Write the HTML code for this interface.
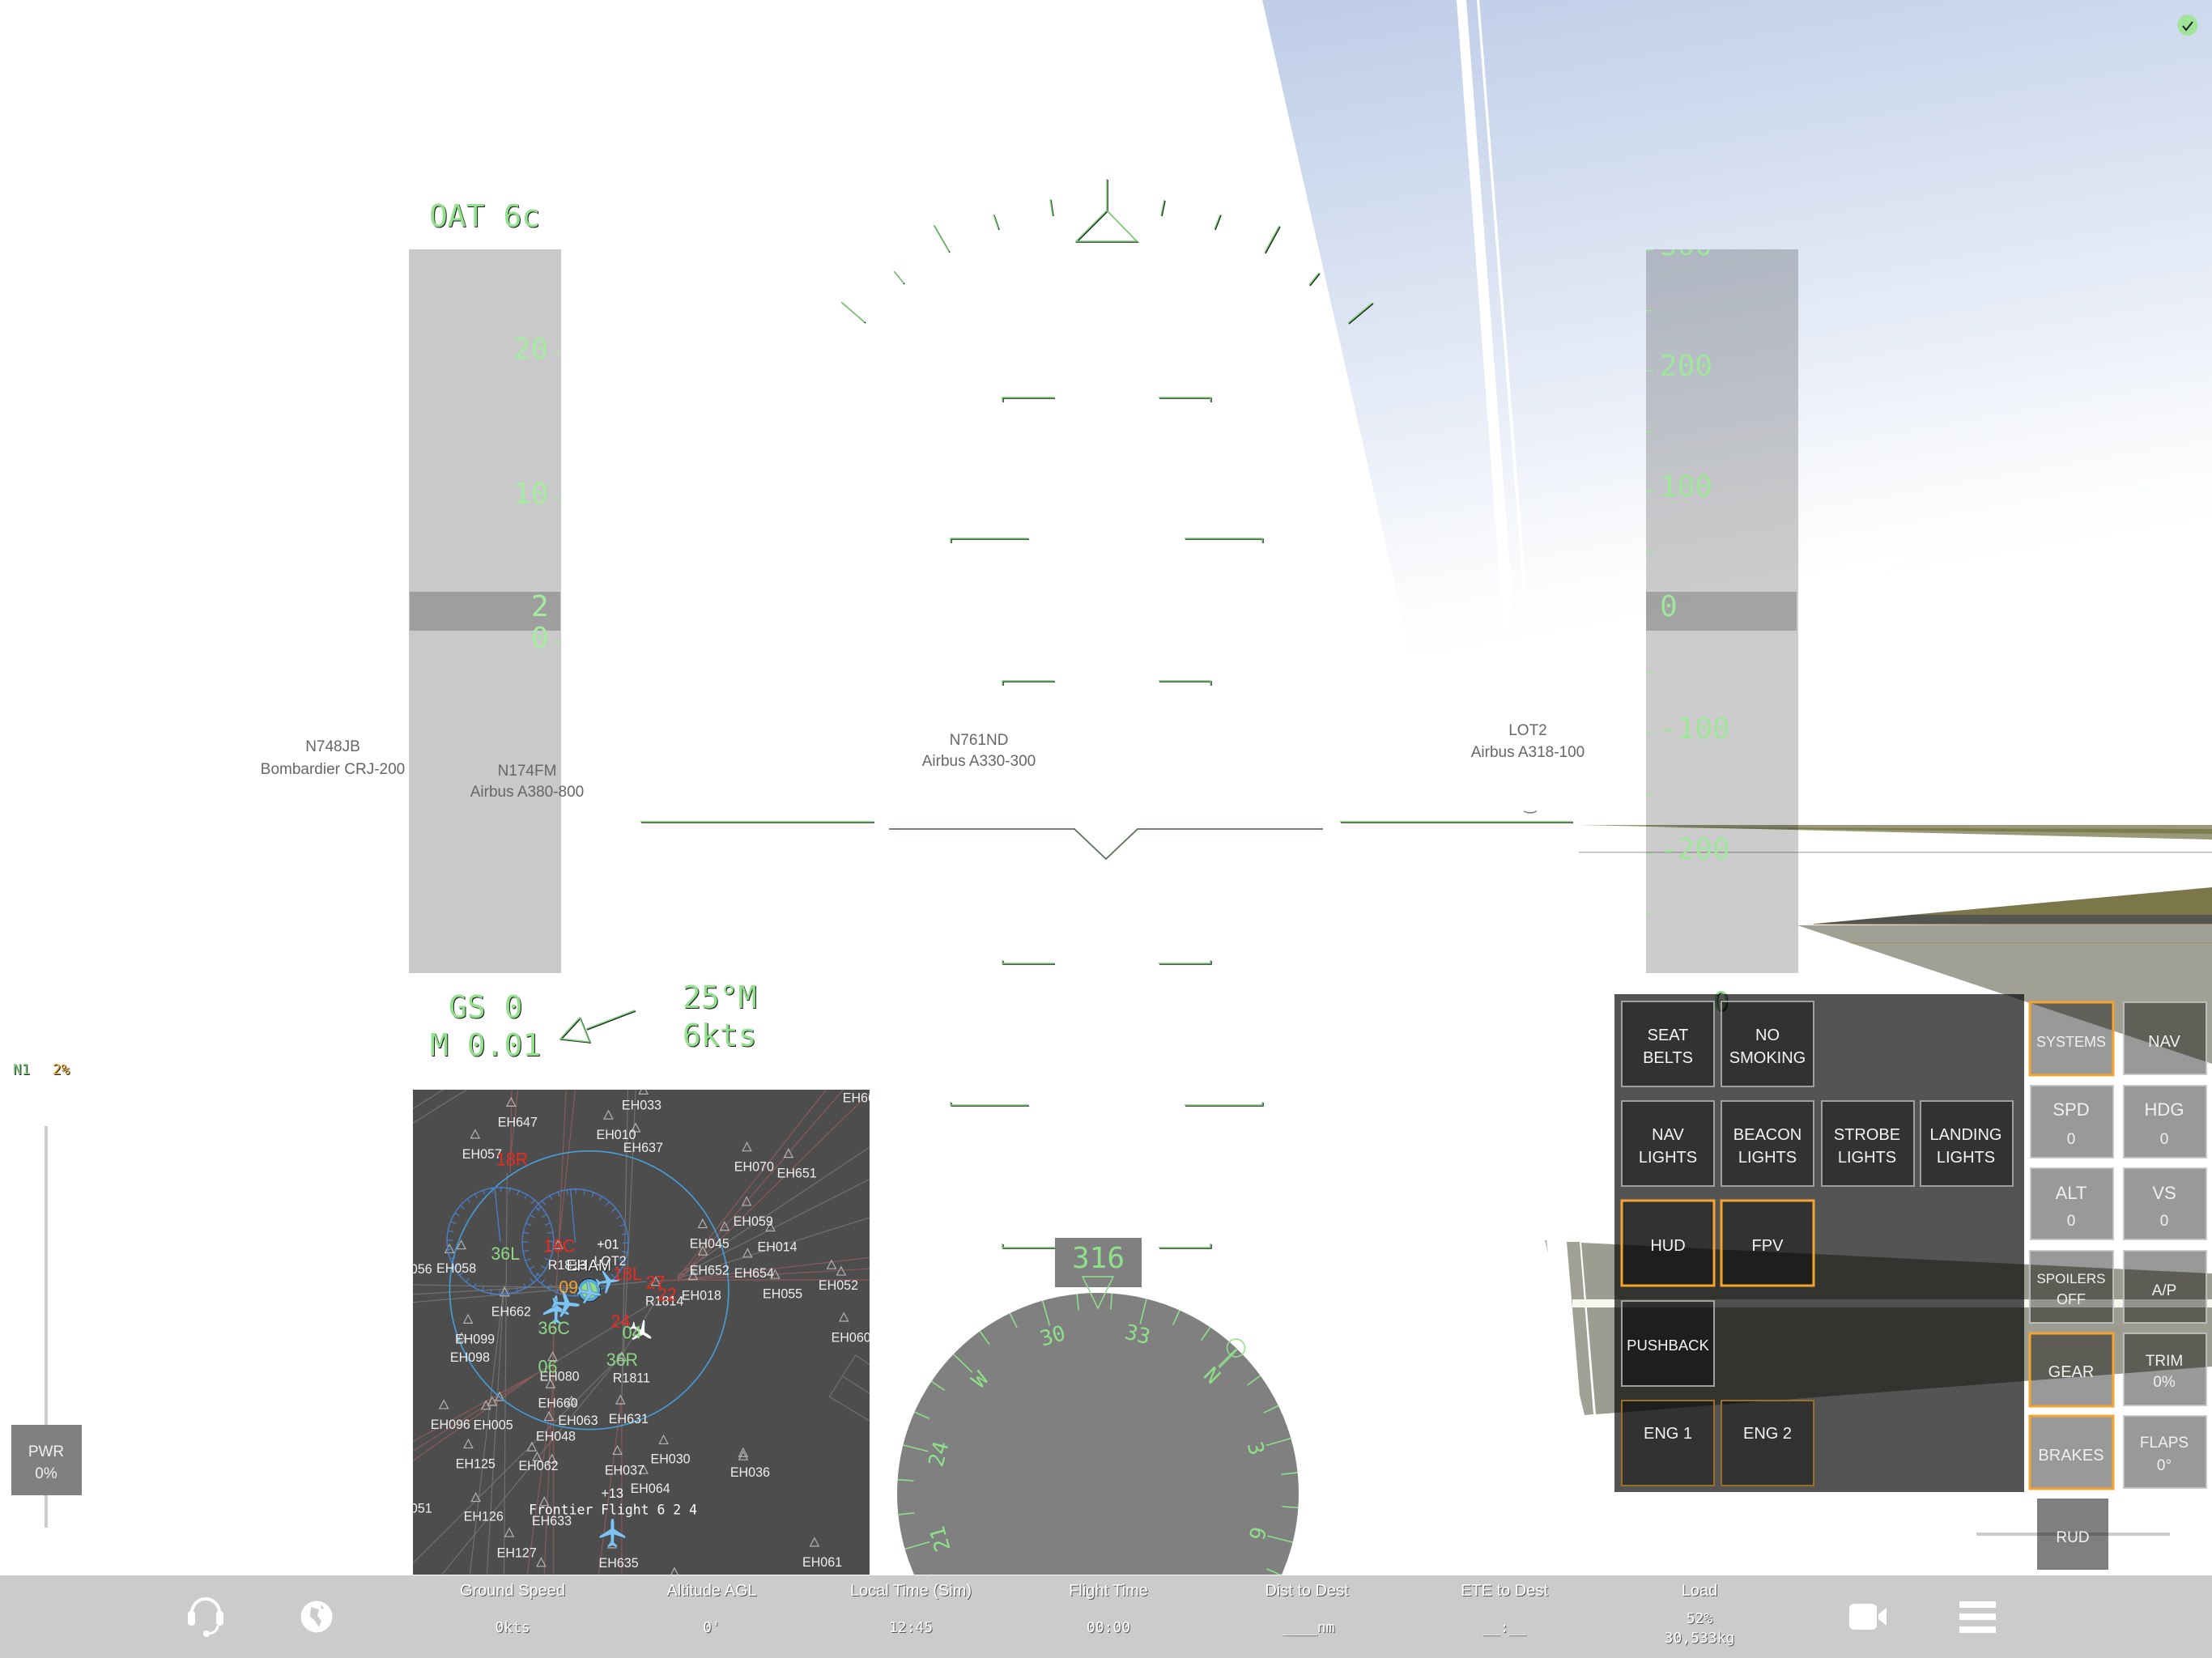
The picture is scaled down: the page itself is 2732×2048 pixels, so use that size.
<!DOCTYPE html>
<html><head><meta charset="utf-8"><style>
html,body{margin:0;padding:0;background:#fff}
svg{display:block;font-family:"Liberation Sans",sans-serif}
.m{font-family:"DejaVu Sans Mono","Liberation Mono",monospace}
.h{fill:#93e08e;font-size:38px;filter:drop-shadow(1px 1px 0 #1c1c1c)}
.hl{stroke:#7fcf7a;stroke-width:1.5;fill:none;filter:drop-shadow(1px 1px 0 #152515)}
.t{fill:#a5eba0;font-size:36px}
.b{fill:#f4f4f4;font-size:20px;text-anchor:middle}
.r{fill:#f0f0f0;font-size:19px;text-anchor:middle}
.ac{fill:#666;font-size:19px;text-anchor:middle}
.s{fill:#fff;font-size:20px;text-anchor:middle;filter:drop-shadow(1px 1px 0 #555)}
.sv{fill:#fff;font-size:18px;text-anchor:middle;filter:drop-shadow(1px 1px 0 #555)}
.w{fill:#eee;font-size:42px}
.rw{font-size:56px}
</style></head><body>
<svg xmlns="http://www.w3.org/2000/svg" width="2732" height="2048" viewBox="0 0 2732 2048">
<defs>
<linearGradient id="sky" gradientUnits="userSpaceOnUse" x1="1720" y1="0" x2="1860" y2="800">
<stop offset="0" stop-color="#c0cee8"/><stop offset=".35" stop-color="#d5dff0"/><stop offset=".65" stop-color="#e9eef8"/><stop offset=".9" stop-color="#fbfcfd"/><stop offset="1" stop-color="#fff"/></linearGradient>
<clipPath id="mapc"><rect x="510" y="1346" width="564" height="599"/></clipPath>
<clipPath id="cc"><rect x="1100" y="1590" width="520" height="355"/></clipPath>
<clipPath id="rt"><rect x="2033" y="308" width="188" height="894"/></clipPath>
</defs>
<rect width="2732" height="2048" fill="#fff"/>
<!-- sky -->
<polygon points="1559,0 2732,0 2732,820 1745,820" fill="url(#sky)"/>
<polygon points="1799,0 1811,0 1871,780 1857,780" fill="#fff"/>
<polygon points="1824,0 1827,0 1889,780 1885,780" fill="#fff"/>
<polygon points="1880,790 2356,681 2356,695 2100,790" fill="#fff" opacity=".8"/>
<!-- horizon -->
<polygon points="1950,1019 2732,1019 2732,1037" fill="#9a9a78"/>
<polygon points="2050,1022 2732,1024 2732,1030" fill="#7c7d4e"/>
<rect x="1950" y="1052" width="782" height="1.5" fill="#bdbdbd"/>
<!-- ground upper -->
<polygon points="2361,1130 2732,1096 2732,1130" fill="#7c764b"/>
<polygon points="2220,1143 2361,1130 2732,1130 2732,1141 2240,1141" fill="#55554f"/>
<polygon points="2220,1143 2732,1141 2732,1314" fill="#a0a094"/>
<rect x="2240" y="1141" width="492" height="1" fill="#9a8a60"/>
<rect x="2285" y="1164" width="447" height="1" fill="#a88e5c"/>
<!-- ground lower -->
<polygon points="1908,1532 1910,1532 1912,1548" fill="#a8a89c"/>
<polygon points="1935,1534 1951,1534 1968,1747 1957,1748 1951,1723" fill="#a0a094"/>
<polygon points="1953,1535 2732,1573 2732,1688 1971,1747" fill="#9c9c90"/>
<rect x="1942" y="1605" width="790" height="10" fill="#f6f6ee"/>
<!-- tapes -->
<rect x="505" y="308" width="188" height="894" fill="#000" opacity=".21"/>
<rect x="506" y="731" width="186" height="48" fill="#000" opacity=".21"/>
<g class="m t">
<text x="634" y="443">20</text><text x="634" y="622">10</text><text x="656" y="800">0</text><text x="656" y="761">2</text>
</g>
<g fill="#a5eba0"><rect x="683" y="435" width="10" height="1.5"/><rect x="683" y="614" width="10" height="1.5"/><rect x="683" y="793" width="10" height="1.5"/></g>
<rect x="2033" y="308" width="188" height="894" fill="#000" opacity=".2"/>
<rect x="2033" y="731" width="186" height="48" fill="#000" opacity=".2"/>
<g clip-path="url(#rt)"><g class="m t" style="fill:#9fe69a">
<text x="2050" y="315">300</text><text x="2050" y="464">200</text><text x="2050" y="613">100</text><text x="2050" y="761">0</text><text x="2050" y="912">-100</text><text x="2050" y="1061">-200</text></g></g>
<g fill="#9fe69a"><rect x="2033" y="308" width="9" height="1.5"/><rect x="2033" y="383" width="9" height="1.5"/><rect x="2033" y="457" width="9" height="1.5"/><rect x="2033" y="532" width="9" height="1.5"/><rect x="2033" y="606" width="9" height="1.5"/><rect x="2033" y="681" width="9" height="1.5"/><rect x="2033" y="830" width="9" height="1.5"/><rect x="2033" y="905" width="9" height="1.5"/><rect x="2033" y="980" width="9" height="1.5"/><rect x="2033" y="1054" width="9" height="1.5"/><rect x="2033" y="1129" width="9" height="1.5"/></g>
<!-- HUD text -->
<text class="m h" x="530" y="280">OAT 6c</text>
<text class="m h" x="554" y="1257">GS 0</text>
<text class="m h" x="531" y="1304">M 0.01</text>
<text class="m h" x="843" y="1245">25°M</text>
<text class="m h" x="843" y="1292">6kts</text>
<text class="m h" x="2116" y="1248" style="font-size:32px">0</text>
<text class="m" x="16" y="1327" style="fill:#7fcf7a;font-size:17.5px;filter:drop-shadow(1px 1px 0 #222)">N1</text>
<text class="m" x="65" y="1327" style="fill:#eba52f;font-size:17.5px;filter:drop-shadow(1px 1px 0 #222)">2%</text>
<!-- HUD lines -->
<g class="hl">
<path d="M1367 221V260L1329 298H1404L1367 260"/>
<path d="M1297 246L1300 266M1227 265L1233 283M1153 278L1172 311M1104 335L1116 350M1039 373L1068 398M1438 247L1434 266M1507 265L1500 283M1580 279L1562 312M1629 337L1617 352M1695 374L1665 399"/>
<path d="M1238 496V491H1302M1431 491H1495V496"/>
<path d="M1174 670V665H1270M1463 665H1559V670"/>
<path d="M1238 846V841H1302M1431 841H1495V846"/>
<path d="M791 1015H1079M1655 1015H1942"/>
<path d="M1238 1186V1190H1302M1431 1190H1495V1186"/>
<path d="M1174 1361V1365H1270M1463 1365H1559V1361"/>
<path d="M1238 1536V1541H1303M1431 1541H1495V1536"/>
<path d="M716 1257L692 1283L728 1287ZM724 1271L784 1248"/>
</g>
<path d="M1098 1024H1327L1366 1061L1405 1024H1634" fill="none" stroke="#5c705c" stroke-width="1.8"/>
<path d="M1882 1002q8 4 16 0" fill="none" stroke="#777" stroke-width="1.5"/>
<!-- aircraft labels -->
<g class="ac">
<text x="411" y="928">N748JB</text><text x="411" y="956">Bombardier CRJ-200</text>
<text x="651" y="958">N174FM</text><text x="651" y="984">Airbus A380-800</text>
<text x="1209" y="920">N761ND</text><text x="1209" y="946">Airbus A330-300</text>
<text x="1887" y="908">LOT2</text><text x="1887" y="935">Airbus A318-100</text>
</g>
<!-- slider and PWR -->
<rect x="55" y="1391" width="4" height="496" fill="#ccc"/>
<rect x="14" y="1760" width="87" height="87" fill="#808080"/>
<text class="r" x="57" y="1799">PWR</text><text class="r" x="57" y="1826">0%</text>
<!-- MAP -->
<rect x="510" y="1346" width="564" height="599" fill="#4d4d4d"/>
<g clip-path="url(#mapc)"><g transform="translate(500 1330) scale(.3827 .3953)">
<g fill="none" stroke="#727272" stroke-width="3">
<path d="M330 300L320 1555M320 650L210 1555M320 650L265 1555M26 650L560 660M26 680L560 650M26 705L560 660M560 660L780 640M720 40L700 1000M745 40L700 1000M810 700L430 925M700 870L26 1520M700 870L120 1555M810 700L700 870M880 620L1500 220M880 625L1500 320M880 630L1500 440M26 100L125 40M26 145L200 40M1500 900L1455 870L1370 1000L1500 1075M1415 937L1500 990"/>
</g>
<g fill="none" stroke="#8d5a5a" stroke-width="3">
<path d="M345 40L340 300M365 40L340 260M550 40L497 520L480 800L480 1555M520 40L497 520M480 800L475 1000L395 1555M475 1000L450 1555M700 1000V1555M700 1000L625 1555M1360 40L880 630M1415 40L880 640M1500 50L880 640M880 635L1500 565M880 635L1500 600M880 635H1500M880 635L790 640M430 925L26 1140M430 925L26 1170M430 925L26 1200"/>
</g>
<path fill="none" stroke="#b4b4b4" stroke-width="3" d="M343 66l-14 26h28zM227 166l-14 26h28zM770 28l-14 26h28zM657 106l-14 26h28zM745 146l-14 26h28zM1104 206l-14 26h28zM1238 226l-14 26h28zM1103 376l-14 26h28zM961 446l-14 26h28zM1032 454l-14 26h28zM1180 456l-14 26h28zM962 531l-14 26h28zM1106 538l-14 26h28zM810 626l-14 26h28zM930 608l-14 26h28zM1195 604l-14 26h28zM1377 574l-14 26h28zM1408 594l-14 26h28zM144 524l-14 26h28zM182 512l-14 26h28zM322 659l-14 26h28zM204 744l-14 26h28zM183 801l-14 26h28zM1417 738l-14 26h28zM477 861l-14 26h28zM470 946l-14 26h28zM306 986l-14 26h28zM282 1001l-14 26h28zM262 1013l-14 26h28zM126 1011l-14 26h28zM465 1048l-14 26h28zM696 996l-14 26h28zM205 1134l-14 26h28zM835 1121l-14 26h28zM410 1143l-14 26h28zM427 1174l-14 26h28zM475 1181l-14 26h28zM686 1154l-14 26h28zM770 1214l-14 26h28zM1092 1161l-14 26h28zM1092 1171l-14 26h28zM229 1301l-14 26h28zM450 1314l-14 26h28zM337 1411l-14 26h28zM668 1446l-14 26h28zM440 1504l-14 26h28zM1322 1441l-14 26h28zM870 1535l-14 26h28zM700 861l-14 26h28zM495 511l-14 26h28zM538 999l-14 26h28z"/>
<ellipse cx="595" cy="667" rx="450" ry="435" fill="none" stroke="#45a0de" stroke-width="4"/>
<ellipse cx="308" cy="513" rx="172" ry="167" fill="none" stroke="#4a7fc9" stroke-width="3.5"/>
<ellipse cx="550" cy="518" rx="171" ry="167" fill="none" stroke="#4a7fc9" stroke-width="3.5"/>
<circle cx="308" cy="513" r="162" fill="none" stroke="#4a7fc9" stroke-width="18" stroke-dasharray="3 25.3"/>
<circle cx="550" cy="518" r="161" fill="none" stroke="#4a7fc9" stroke-width="18" stroke-dasharray="3 25.1"/>
<path d="M290 347L308 515M535 352L550 518" stroke="#4a7fc9" stroke-width="3.5" fill="none"/>
<g class="w">
<text x="300" y="155">EH647</text><text x="700" y="102">EH033</text><text x="618" y="195">EH010</text><text x="705" y="235">EH637</text><text x="185" y="255">EH057</text><text x="1413" y="80">EH66</text><text x="1063" y="295">EH070</text><text x="1201" y="315">EH651</text><text x="1060" y="465">EH059</text><text x="919" y="535">EH045</text><text x="1138" y="545">EH014</text><text x="919" y="618">EH652</text><text x="1063" y="627">EH654</text><text x="102" y="612">EH058</text><text x="18" y="615">056</text><text x="1335" y="665">EH052</text><text x="1155" y="692">EH055</text><text x="893" y="697">EH018</text><text x="279" y="748">EH662</text><text x="776" y="715">R1814</text><text x="162" y="833">EH099</text><text x="146" y="890">EH098</text><text x="1376" y="828">EH060</text><text x="435" y="950">EH080</text><text x="671" y="955">R1811</text><text x="430" y="1033">EH660</text><text x="495" y="1088">EH063</text><text x="658" y="1083">EH631</text><text x="83" y="1100">EH096</text><text x="221" y="1102">EH005</text><text x="423" y="1137">EH048</text><text x="164" y="1223">EH125</text><text x="367" y="1230">EH062</text><text x="793" y="1208">EH030</text><text x="1050" y="1250">EH036</text><text x="645" y="1243">EH037</text><text x="728" y="1300">EH064</text><text x="18" y="1362">051</text><text x="190" y="1387">EH126</text><text x="410" y="1402">EH633</text><text x="297" y="1502">EH127</text><text x="626" y="1533">EH635</text><text x="1283" y="1530">EH061</text><text x="462" y="602">R1813</text><text x="610" y="590">LOT2</text>
</g>
<g fill="#7ec4f2" stroke="#2a3a4a" stroke-width="1">
<path transform="translate(670 1425)" d="M0-45C5-45 6-35 6-25V-12L42 10V18L6 6 5 30 16 40V46L0 40-16 46V40L-5 30-6 6-42 18V10L-6-12V-25C-6-35-5-45 0-45Z"/>
<path transform="translate(488 728)" d="M0-45C5-45 6-35 6-25V-12L42 10V18L6 6 5 30 16 40V46L0 40-16 46V40L-5 30-6 6-42 18V10L-6-12V-25C-6-35-5-45 0-45Z"/>
<path transform="translate(520 710) rotate(95)" d="M0-45C5-45 6-35 6-25V-12L42 10V18L6 6 5 30 16 40V46L0 40-16 46V40L-5 30-6 6-42 18V10L-6-12V-25C-6-35-5-45 0-45Z"/>
</g>
<circle cx="595" cy="667" r="30" fill="#8fdc8a" stroke="#55a8e0" stroke-width="10"/>
<circle cx="595" cy="667" r="36" fill="none" stroke="#111" stroke-width="2"/>
<g fill="#7ec4f2" stroke="#2a3a4a" stroke-width="1">
<path transform="translate(595 675) rotate(100) scale(.85)" d="M0-45C5-45 6-35 6-25V-12L42 10V18L6 6 5 30 16 40V46L0 40-16 46V40L-5 30-6 6-42 18V10L-6-12V-25C-6-35-5-45 0-45Z"/>
<path transform="translate(655 640) rotate(82) scale(.85)" d="M0-45C5-45 6-35 6-25V-12L42 10V18L6 6 5 30 16 40V46L0 40-16 46V40L-5 30-6 6-42 18V10L-6-12V-25C-6-35-5-45 0-45Z"/>
<path transform="translate(763 797) rotate(122) scale(.85)" fill="#fff" d="M0-45C5-45 6-35 6-25V-12L42 10V18L6 6 5 30 16 40V46L0 40-16 46V40L-5 30-6 6-42 18V10L-6-12V-25C-6-35-5-45 0-45Z"/>
</g>
<g class="rw" fill="#ee2a20">
<text x="295" y="277">18R</text><text x="447" y="548">18C</text><text x="672" y="635">18L</text><text x="778" y="662">27</text><text x="815" y="700">22</text><text x="665" y="783">24</text></g>
<g class="rw" fill="#8cd884">
<text x="278" y="572">36L</text><text x="430" y="805">36C</text><text x="702" y="818">04</text><text x="650" y="903">36R</text><text x="430" y="925">06</text></g>
<text class="rw" x="497" y="677" fill="#f0a030">09</text>
<text x="522" y="606" style="font-size:50px;fill:#fff;filter:drop-shadow(2px 2px 0 #000)">EHAM</text>
<text class="w" x="620" y="538" style="fill:#fff">+01</text>
<text class="w" x="634" y="1316" style="fill:#fff">+13</text>
<text class="m" x="400" y="1367" style="font-size:43px;fill:#fff">Frontier Flight 6 2 4</text>
</g></g>
<!-- Compass -->
<g clip-path="url(#cc)">
<circle cx="1356" cy="1845" r="248" fill="#808080"/>
<g stroke="#8fe08a" stroke-width="1.6">
<line x1="1356" y1="1597" x2="1356" y2="1629" transform="rotate(14 1356 1845)"/><line x1="1356" y1="1597" x2="1356" y2="1629" transform="rotate(44 1356 1845)"/><line x1="1356" y1="1597" x2="1356" y2="1629" transform="rotate(74 1356 1845)"/><line x1="1356" y1="1597" x2="1356" y2="1629" transform="rotate(104 1356 1845)"/><line x1="1356" y1="1597" x2="1356" y2="1629" transform="rotate(134 1356 1845)"/><line x1="1356" y1="1597" x2="1356" y2="1629" transform="rotate(-16 1356 1845)"/><line x1="1356" y1="1597" x2="1356" y2="1629" transform="rotate(-46 1356 1845)"/><line x1="1356" y1="1597" x2="1356" y2="1629" transform="rotate(-76 1356 1845)"/><line x1="1356" y1="1597" x2="1356" y2="1629" transform="rotate(-106 1356 1845)"/><line x1="1356" y1="1597" x2="1356" y2="1629" transform="rotate(-136 1356 1845)"/>
<line x1="1356" y1="1597" x2="1356" y2="1617" transform="rotate(4 1356 1845)"/><line x1="1356" y1="1597" x2="1356" y2="1617" transform="rotate(24 1356 1845)"/><line x1="1356" y1="1597" x2="1356" y2="1617" transform="rotate(34 1356 1845)"/><line x1="1356" y1="1597" x2="1356" y2="1617" transform="rotate(54 1356 1845)"/><line x1="1356" y1="1597" x2="1356" y2="1617" transform="rotate(64 1356 1845)"/><line x1="1356" y1="1597" x2="1356" y2="1617" transform="rotate(84 1356 1845)"/><line x1="1356" y1="1597" x2="1356" y2="1617" transform="rotate(94 1356 1845)"/><line x1="1356" y1="1597" x2="1356" y2="1617" transform="rotate(114 1356 1845)"/><line x1="1356" y1="1597" x2="1356" y2="1617" transform="rotate(124 1356 1845)"/><line x1="1356" y1="1597" x2="1356" y2="1617" transform="rotate(-6 1356 1845)"/><line x1="1356" y1="1597" x2="1356" y2="1617" transform="rotate(-26 1356 1845)"/><line x1="1356" y1="1597" x2="1356" y2="1617" transform="rotate(-36 1356 1845)"/><line x1="1356" y1="1597" x2="1356" y2="1617" transform="rotate(-56 1356 1845)"/><line x1="1356" y1="1597" x2="1356" y2="1617" transform="rotate(-66 1356 1845)"/><line x1="1356" y1="1597" x2="1356" y2="1617" transform="rotate(-86 1356 1845)"/><line x1="1356" y1="1597" x2="1356" y2="1617" transform="rotate(-96 1356 1845)"/><line x1="1356" y1="1597" x2="1356" y2="1617" transform="rotate(-116 1356 1845)"/><line x1="1356" y1="1597" x2="1356" y2="1617" transform="rotate(-126 1356 1845)"/>
</g>
<g class="m" fill="#8fe08a" font-size="26" text-anchor="middle">
<text x="1356" y="1651" transform="rotate(14 1356 1845)">33</text><text x="1356" y="1651" transform="rotate(-16 1356 1845)">30</text><text x="1356" y="1651" transform="rotate(-46 1356 1845)">W</text><text x="1356" y="1651" transform="rotate(-76 1356 1845)">24</text><text x="1356" y="1651" transform="rotate(-106 1356 1845)">21</text><text x="1356" y="1651" transform="rotate(44 1356 1845)">N</text><text x="1356" y="1651" transform="rotate(74 1356 1845)">3</text><text x="1356" y="1651" transform="rotate(104 1356 1845)">6</text>
</g>
</g>
<circle cx="1526.5" cy="1665" r="11" fill="none" stroke="#8fe08a" stroke-width="1.5"/>
<path d="M1526 1667L1505 1688" stroke="#8fe08a" stroke-width="1.5"/>
<rect x="1303" y="1529" width="107" height="61" fill="#808080"/>
<text class="m" x="1324" y="1566" style="font-size:36px;fill:#8fe08a">316</text>
<polygon points="1337,1577 1375,1577 1356,1616" fill="none" stroke="#8fe08a" stroke-width="1.5"/>
<!-- Panel -->
<rect x="1994" y="1228" width="506" height="615" fill="#000" opacity=".67"/>
<g fill="#000" fill-opacity=".4" stroke="#a0a0a0" stroke-width="2">
<rect x="2003" y="1237" width="114" height="105"/><rect x="2126" y="1237" width="114" height="105"/>
<rect x="2003" y="1360" width="114" height="105"/><rect x="2126" y="1360" width="114" height="105"/><rect x="2250" y="1360" width="114" height="105"/><rect x="2372" y="1360" width="114" height="105"/>
<rect x="2003" y="1607" width="114" height="105"/>
<rect x="2003" y="1483" width="114" height="105" stroke="#f5a52e" stroke-width="3"/><rect x="2126" y="1483" width="114" height="105" stroke="#f5a52e" stroke-width="3"/>
<rect x="2003" y="1730" width="114" height="105" stroke="#9a6f28"/><rect x="2126" y="1730" width="114" height="105" stroke="#9a6f28"/>
</g>
<g class="b">
<text x="2060" y="1285">SEAT</text><text x="2060" y="1313">BELTS</text>
<text x="2183" y="1285">NO</text><text x="2183" y="1313">SMOKING</text>
<text x="2060" y="1408">NAV</text><text x="2060" y="1436">LIGHTS</text>
<text x="2183" y="1408">BEACON</text><text x="2183" y="1436">LIGHTS</text>
<text x="2306" y="1408">STROBE</text><text x="2306" y="1436">LIGHTS</text>
<text x="2428" y="1408">LANDING</text><text x="2428" y="1436">LIGHTS</text>
<text x="2060" y="1545">HUD</text><text x="2183" y="1545">FPV</text>
<text x="2060" y="1668" style="font-size:18.5px">PUSHBACK</text>
<text x="2060" y="1777">ENG 1</text><text x="2183" y="1777">ENG 2</text>
</g>
<g fill="#000" fill-opacity=".4" stroke="#c4c4c4" stroke-opacity=".85" stroke-width="2">
<rect x="2623" y="1238" width="102" height="89"/>
<rect x="2508" y="1341" width="102" height="89"/><rect x="2623" y="1341" width="102" height="89"/>
<rect x="2508" y="1443" width="102" height="88"/><rect x="2623" y="1443" width="102" height="88"/>
<rect x="2507" y="1545" width="103" height="89"/><rect x="2623" y="1545" width="102" height="89"/>
<rect x="2623" y="1647" width="102" height="89"/><rect x="2623" y="1749" width="102" height="89"/>
<rect x="2507" y="1238" width="103" height="90" stroke="#f5a52e" stroke-opacity="1" stroke-width="3"/>
<rect x="2507" y="1647" width="103" height="90" stroke="#f5a52e" stroke-opacity="1" stroke-width="3"/>
<rect x="2507" y="1749" width="103" height="90" stroke="#f5a52e" stroke-opacity="1" stroke-width="3"/>
</g>
<g class="r">
<text x="2558" y="1293" style="font-size:18px">SYSTEMS</text><text x="2673" y="1293" style="font-size:20px">NAV</text>
<text x="2558" y="1378" style="font-size:22px">SPD</text><text x="2558" y="1413">0</text>
<text x="2673" y="1378" style="font-size:22px">HDG</text><text x="2673" y="1413">0</text>
<text x="2558" y="1481" style="font-size:22px">ALT</text><text x="2558" y="1514">0</text>
<text x="2673" y="1481" style="font-size:22px">VS</text><text x="2673" y="1514">0</text>
<text x="2558" y="1585" style="font-size:17px">SPOILERS</text><text x="2558" y="1611" style="font-size:18px">OFF</text>
<text x="2673" y="1600">A/P</text>
<text x="2558" y="1701" style="font-size:20px">GEAR</text>
<text x="2673" y="1687">TRIM</text><text x="2673" y="1713">0%</text>
<text x="2558" y="1804" style="font-size:20px">BRAKES</text>
<text x="2673" y="1788">FLAPS</text><text x="2673" y="1816">0°</text>
</g>
<rect x="2441" y="1893" width="239" height="4" fill="#ccc"/>
<rect x="2516" y="1851" width="88" height="88" fill="#000" opacity=".5"/>
<text class="r" x="2560" y="1905">RUD</text>
<!-- status -->
<ellipse cx="2702" cy="31" rx="12.5" ry="13" fill="#a0e49a"/>
<path d="M2696 32l4 5 8-10" fill="none" stroke="#222" stroke-width="2"/>
<!-- bottom bar -->
<rect x="0" y="1946" width="2732" height="102" fill="#cbcbcb"/>
<g class="s">
<text x="633" y="1971">Ground Speed</text><text x="879" y="1971">Altitude AGL</text><text x="1125" y="1971">Local Time (Sim)</text><text x="1369" y="1971">Flight Time</text><text x="1614" y="1971">Dist to Dest</text><text x="1858" y="1971">ETE to Dest</text><text x="2099" y="1971">Load</text>
</g>
<g class="m sv">
<text x="633" y="2016">0kts</text><text x="879" y="2016">0'</text><text x="1125" y="2016">12:45</text><text x="1369" y="2016">00:00</text><text x="1616" y="2016">____nm</text><text x="1858" y="2016">__:__</text><text x="2099" y="2005">52%</text><text x="2099" y="2029">30,533kg</text>
</g>
<!-- icons -->
<g fill="none" stroke="#fff">
<path d="M237 2000V1992a17 17 0 0 1 34 0V2000" stroke-width="4"/>
<path d="M269 2008q-1 9-12 10" stroke-width="3"/>
</g>
<g fill="#fff">
<rect x="232" y="1990" width="9" height="18" rx="4"/><rect x="267" y="1990" width="9" height="18" rx="4"/><circle cx="255" cy="2018" r="4"/>
<circle cx="391" cy="1997" r="19.5"/>
<path d="M2284 1987a6 6 0 0 1 6-6h22a6 6 0 0 1 6 6v20a6 6 0 0 1-6 6h-22a6 6 0 0 1-6-6zM2320 1994l10-8v22l-10-8z"/>
<rect x="2420" y="1978" width="45" height="8"/><rect x="2420" y="1993" width="45" height="8"/><rect x="2420" y="2009" width="45" height="8"/>
</g>
<path d="M384 1985l10 3-2 8 5 6-3 8-5-8-6-5zM396 1982l4 4-3 2z" fill="#cbcbcb"/>
</svg>
</body></html>
